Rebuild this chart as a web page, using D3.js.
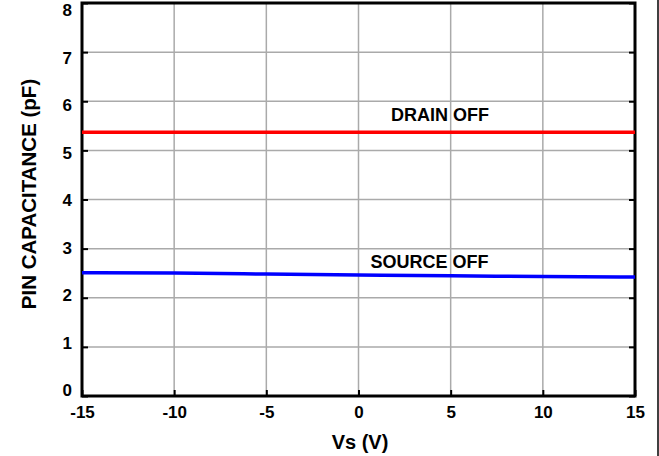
<!DOCTYPE html>
<html><head><meta charset="utf-8">
<script src="https://cdn.jsdelivr.net/npm/d3@7"></script>
<style>body{margin:0;background:#fff}svg{display:block}text{font-family:Arial,"Liberation Sans",sans-serif;font-weight:bold;fill:#000}</style>
</head><body>
<svg id="c" width="659" height="456"></svg>
<script>
const xTicks = [-15,-10,-5,0,5,10,15];
const yTicks = [0,1,2,3,4,5,6,7,8];
const vs = [-15,-10,-5,0,5,10,15];
const drainOff = [5.37,5.37,5.37,5.37,5.37,5.37,5.37];
const sourceOff = [2.51,2.51,2.48,2.46,2.45,2.43,2.42];
const seriesLabels = ["DRAIN OFF","SOURCE OFF"];

const svg = d3.select("#c");
const L=82,R=635,T=3,B=396;
const x = d3.scaleLinear().domain([-15,15]).range([L,R]);
const y = d3.scaleLinear().domain([0,8]).range([B,T]);
const yLab = d3.scaleLinear().domain([0,8]).range([390,10]);

// grid
svg.append("g").selectAll("line").data(xTicks.slice(1,-1)).join("line")
  .attr("x1",d=>x(d)).attr("x2",d=>x(d)).attr("y1",T).attr("y2",B)
  .attr("stroke","#aaa").attr("stroke-width",1.5);
svg.append("g").selectAll("line").data(yTicks.slice(1,-1)).join("line")
  .attr("y1",d=>y(d)).attr("y2",d=>y(d)).attr("x1",L).attr("x2",R)
  .attr("stroke","#aaa").attr("stroke-width",1.5);

const fmt = d => String(d);
// axes with inward ticks
const gx = svg.append("g").attr("transform",`translate(0,${B})`)
  .call(d3.axisBottom(x).tickValues(xTicks).tickSize(-6).tickPadding(16).tickFormat(fmt));
const gy = svg.append("g").attr("transform",`translate(${L},0)`)
  .call(d3.axisLeft(y).tickValues(yTicks).tickSize(-6).tickPadding(10).tickFormat(fmt));
const gr = svg.append("g").attr("transform",`translate(${R},0)`)
  .call(d3.axisRight(y).tickValues(yTicks).tickSize(-6).tickFormat(""));
[gx,gy,gr].forEach(g=>{
  g.select(".domain").remove();
  g.selectAll(".tick line").attr("stroke","#000").attr("stroke-width",2);
  g.selectAll("text").style("font-size","17px").style("font-weight","bold").attr("fill","#000").attr("font-family",null);
});
gx.selectAll("text").attr("dy","0.35em");
gy.selectAll(".tick text").attr("y",d=>yLab(d)-y(d)).attr("dy","0.35em");

// frame
svg.append("rect").attr("x",L).attr("y",T).attr("width",R-L).attr("height",B-T)
  .attr("fill","none").attr("stroke","#000").attr("stroke-width",3);

// lines
const line = d3.line().x((d,i)=>x(vs[i])).y(d=>y(d)).curve(d3.curveBasis);
svg.append("path").datum(drainOff).attr("d",line).attr("fill","none").attr("stroke","#ff0000").attr("stroke-width",3.5);
svg.append("path").datum(sourceOff).attr("d",line).attr("fill","none").attr("stroke","#0000ff").attr("stroke-width",3.5);

// series labels
svg.append("text").attr("x",x(4.42)).attr("y",y(5.37)-11).attr("text-anchor","middle").style("font-size","18px").text(seriesLabels[0]);
svg.append("text").attr("x",x(3.85)).attr("y",y(2.46)-7).attr("text-anchor","middle").style("font-size","18px").text(seriesLabels[1]);

// axis titles
svg.append("text").attr("x",360).attr("y",449).attr("text-anchor","middle").style("font-size","20px").text("Vs (V)");
svg.append("text").attr("transform",`translate(36,194) rotate(-90)`).attr("text-anchor","middle").style("font-size","20.5px").text("PIN CAPACITANCE (pF)");

// right edge line
svg.append("line").attr("x1",658).attr("x2",658).attr("y1",0).attr("y2",456).attr("stroke","#000").attr("stroke-width",1.5);
</script>
</body></html>
